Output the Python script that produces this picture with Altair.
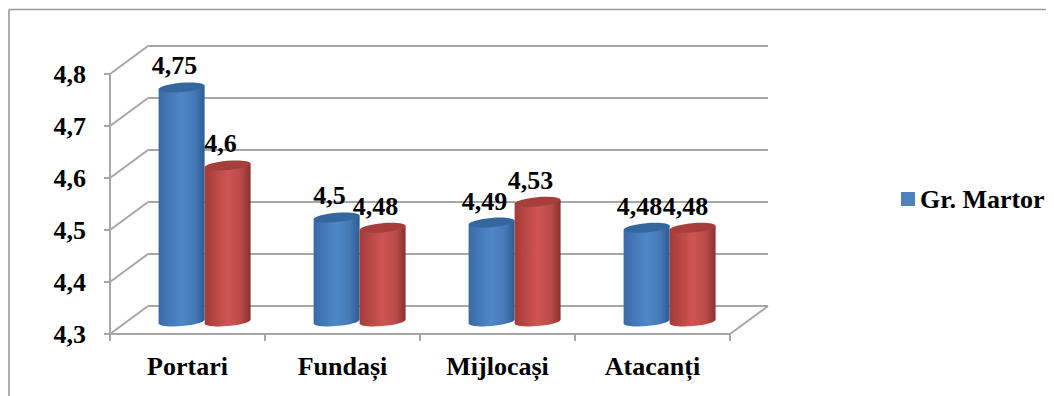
import math
import altair as alt
import pandas as pd

categories = ["Portari", "Fundași", "Mijlocași", "Atacanți"]
series_a = [4.75, 4.5, 4.49, 4.48]
series_b = [4.6, 4.48, 4.53, 4.48]
label_a = ["4,75", "4,5", "4,49", "4,48"]
label_b = ["4,6", "4,48", "4,53", "4,48"]
y_ticks = [4.3, 4.4, 4.5, 4.6, 4.7, 4.8]
y_labels = ["4,3", "4,4", "4,5", "4,6", "4,7", "4,8"]
legend_name = "Gr. Martor"

W, H = 1038, 388
PX_U, PX_V = 155.0, 520.0            # pixels per category / per value unit
X0, Y0 = 110.0, 334.0                # page position of the axes' origin
base = 4.3
du, dv = 38 / PX_U, 28 / PX_V        # depth of the floor in data units
mid = 0.45                           # depth at which the cylinders stand
half = 23 / PX_U                     # half a cylinder
tilt = 2.0 / PX_V

sx = alt.Scale(domain=[(8 - X0) / PX_U, (8 + W - X0) / PX_U], range=[0, W], nice=False, zero=False)
sy = alt.Scale(domain=[base + (Y0 - 8 - H) / PX_V, base + (Y0 - 8) / PX_V], range=[H, 0], nice=False, zero=False)
X = lambda f: alt.X(f, type="quantitative", scale=sx, axis=None)
Y = lambda f: alt.Y(f, type="quantitative", scale=sy, axis=None)

FONT = "Liberation Serif"
GRID = "#a6a6a6"


def rules(rows, color=GRID, width=2.0):
    df = pd.DataFrame(rows, columns=["x", "y", "x2", "y2"])
    return alt.Chart(df).mark_rule(color=color, strokeWidth=width).encode(
        x=X("x"), y=Y("y"), x2="x2:Q", y2="y2:Q"
    )


n = len(categories)
top = y_ticks[-1]
grid_rows = []
for v in y_ticks:
    grid_rows.append([0, v, du, v + dv])            # side wall
    grid_rows.append([du, v + dv, n + du, v + dv])  # back wall
grid_rows.append([0, base, n, base])                # front edge of the floor
grid_rows.append([n, base, n + du, base + dv])      # right edge of the floor
grid_rows.append([0, base, 0, top])                 # value axis line
for v in y_ticks:
    grid_rows.append([-6 / PX_U, v, 0, v])
for i in range(n + 1):
    grid_rows.append([i, base, i, base - 7 / PX_V])
grid = rules(grid_rows)

# frame: runs off the right and bottom of the picture
frame = rules(
    [[-101 / PX_U, (Y0 - 9.5) / PX_V + base, (8 + W - X0) / PX_U, (Y0 - 9.5) / PX_V + base],
     [-101 / PX_U, (Y0 - 9.5) / PX_V + base, -101 / PX_U, base + (Y0 - 8 - H) / PX_V]],
    color="#999999", width=1.6,
)


def ellipse_path(ry=0.2, deg=-5):
    k = 0.5523
    c, s = math.cos(math.radians(deg)), math.sin(math.radians(deg))
    pts = [(1, 0), (1, k * ry), (k, ry), (0, ry), (-k, ry), (-1, k * ry), (-1, 0),
           (-1, -k * ry), (-k, -ry), (0, -ry), (k, -ry), (1, -k * ry), (1, 0)]
    r = [(x * c - y * s, x * s + y * c) for x, y in pts]
    f = lambda p: f"{p[0]:.4f} {p[1]:.4f}"
    d = "M" + f(r[0])
    for i in range(1, 13, 3):
        d += " C" + f(r[i]) + " " + f(r[i + 1]) + " " + f(r[i + 2])
    return d + " Z"


ELL = ellipse_path()


def grad(stops):
    return alt.LinearGradient(
        gradient="linear", x1=0, x2=1, y1=0, y2=0,
        stops=[alt.GradientStop(color=c, offset=o) for o, c in stops],
    )


def cylinders(values, side, stops, cap):
    g = grad(stops)
    centers = [i + 0.5 + mid * du + side * half for i in range(n)]
    vv = [base + mid * dv]
    centre = pd.DataFrame({"x": centers, "top": [v + mid * dv for v in values], "bot": vv * n})
    rows = []
    for cx, v in zip(centers, values):
        for sgn in (-1, 1):
            rows.append({"c": cx, "x": cx + sgn * half,
                         "t": v + mid * dv + sgn * tilt, "b": base + mid * dv + sgn * tilt})
    body = alt.Chart(pd.DataFrame(rows)).mark_area(fill=g, line=False, interpolate="linear").encode(
        x=X("x"), y=Y("t"), y2="b:Q", detail="c:N"
    )
    bottom = alt.Chart(centre).mark_point(shape=ELL, filled=True, fill=g, size=2116, opacity=1, strokeWidth=0).encode(
        x=X("x"), y=Y("bot")
    )
    cap_m = alt.Chart(centre).mark_point(shape=ELL, filled=True, fill=cap, size=2116, opacity=1, strokeWidth=0).encode(
        x=X("x"), y=Y("top")
    )
    return bottom + body + cap_m


blue = cylinders(series_a, -1, [(0, "#3a6aa8"), (0.5, "#4f88c8"), (0.8, "#4378b5"), (1, "#2d5b92")], "#35679f")
red = cylinders(series_b, 1, [(0, "#a23b39"), (0.5, "#cf5553"), (0.8, "#b84a48"), (1, "#8c302e")], "#a63e3c")

text_kw = dict(font=FONT, fontWeight="bold", fontSize=26, color="black", baseline="alphabetic")


def value_labels(values, labels, side):
    df = pd.DataFrame({
        "x": [i + 0.5 + mid * du + side * half for i in range(n)],
        "y": [v + mid * dv for v in values],
        "t": labels,
    })
    return alt.Chart(df).mark_text(align="center", dx=-7, dy=-13, **text_kw).encode(
        x=X("x"), y=Y("y"), text="t:N"
    )


ylab = alt.Chart(pd.DataFrame({"x": [0.0] * len(y_ticks), "y": y_ticks, "t": y_labels})).mark_text(
    align="right", dx=-24, dy=9, **text_kw
).encode(x=X("x"), y=Y("y"), text="t:N")

xlab = alt.Chart(pd.DataFrame({"x": [i + 0.5 for i in range(n)], "y": [base] * n, "t": categories})).mark_text(
    align="center", dy=41, **text_kw
).encode(x=X("x"), y=Y("y"), text="t:N")

leg_x = (908 - X0) / PX_U
leg_y = base + (Y0 - 199) / PX_V
leg_sq = alt.Chart(pd.DataFrame({"x": [leg_x], "y": [leg_y]})).mark_point(
    shape="square", filled=True, fill="#4f81bd", size=196, opacity=1, strokeWidth=0
).encode(x=X("x"), y=Y("y"))
leg_tx = alt.Chart(pd.DataFrame({"x": [leg_x], "y": [leg_y], "t": [legend_name]})).mark_text(
    align="left", dx=12, dy=9, **text_kw
).encode(x=X("x"), y=Y("y"), text="t:N")

chart = alt.layer(
    frame, grid, blue, red,
    value_labels(series_a, label_a, -1), value_labels(series_b, label_b, 1),
    ylab, xlab, leg_sq, leg_tx,
).properties(width=W, height=H, padding=0, autosize=alt.AutoSizeParams(type="none")).configure_view(stroke=None)

chart.save("out.html", embed_options={"renderer": "svg", "actions": False})
